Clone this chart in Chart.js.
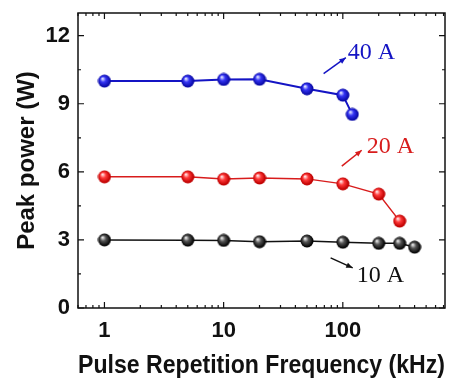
<!DOCTYPE html>
<html>
<head>
<meta charset="utf-8">
<script src="https://cdn.jsdelivr.net/npm/chart.js@4"></script>
<style>
  html, body { margin: 0; padding: 0; background: #fff; }
  #wrap { width: 461px; height: 378px; }
</style>
</head>
<body>
<div id="wrap"><canvas id="chart1" width="461" height="378"></canvas></div>
<script>
// data
var freq40 = [1, 5, 10, 20, 50, 100, 120];
var power40 = [10.0, 10.0, 10.07, 10.08, 9.66, 9.38, 8.53];
var freq20 = [1, 5, 10, 20, 50, 100, 200, 300];
var power20 = [5.78, 5.78, 5.68, 5.73, 5.69, 5.47, 5.02, 3.83];
var freq10 = [1, 5, 10, 20, 50, 100, 200, 300, 400];
var power10 = [3.0, 2.99, 2.98, 2.92, 2.95, 2.90, 2.85, 2.85, 2.68];
var xTicks = [1, 10, 100];
var yTicks = [0, 3, 6, 9, 12];

// label, colour, text anchor, arrow start, arrow end (in data units)
var notes = [
    { text: '40 A', color: '#1414c4', at: [110, 11.25], from: [69, 10.33], to: [106, 11.03] },
    { text: '20 A', color: '#d81c1c', at: [159, 7.12], from: [98, 6.25], to: [144, 6.95] },
    { text: '10 A', color: '#111111', at: [131, 1.42], from: [79, 2.21], to: [121, 1.77] }
];

function toPoints(xs, ys) {
    return xs.map(function (x, i) { return { x: x, y: ys[i] }; });
}

// shaded ball used as the marker
function ball(light, mid, dark) {
    var c = document.createElement('canvas');
    c.width = 14; c.height = 14;
    var g = c.getContext('2d');
    var grad = g.createRadialGradient(5, 4.5, 0.5, 7, 7, 7);
    grad.addColorStop(0, light);
    grad.addColorStop(0.35, mid);
    grad.addColorStop(0.85, dark);
    grad.addColorStop(1, dark);
    g.fillStyle = grad;
    g.beginPath();
    g.arc(7, 7, 6.5, 0, Math.PI * 2);
    g.fill();
    return c;
}

var blueBall = ball('#dfe3ff', '#3535f5', '#0a0aa8');
var redBall = ball('#ffe0e0', '#ff3a3a', '#c00000');
var blackBall = ball('#e6e6e6', '#555555', '#050505');

// box with inward ticks on all four sides
var framePlugin = {
    id: 'frame',
    afterDraw: function (chart) {
        var ctx = chart.ctx, a = chart.chartArea;
        var xs = chart.scales.x, ys = chart.scales.y;
        ctx.save();
        ctx.strokeStyle = '#111';
        ctx.lineWidth = 1.5;
        ctx.strokeRect(a.left, a.top, a.right - a.left, a.bottom - a.top);
        ctx.lineWidth = 1.2;
        ctx.beginPath();
        // y ticks
        for (var v = 0; v <= 13; v += 1.5) {
            var py = ys.getPixelForValue(v);
            var len = (v % 3 === 0) ? 6 : 3;
            ctx.moveTo(a.left, py); ctx.lineTo(a.left + len, py);
            ctx.moveTo(a.right, py); ctx.lineTo(a.right - len, py);
        }
        // x log ticks
        [0.1, 1, 10, 100].forEach(function (dec) {
            for (var m = 1; m <= 9; m++) {
                var val = dec * m;
                if (val < xs.min || val > xs.max) continue;
                var px = xs.getPixelForValue(val);
                var len = (m === 1) ? 6 : 3;
                ctx.moveTo(px, a.bottom); ctx.lineTo(px, a.bottom - len);
                ctx.moveTo(px, a.top); ctx.lineTo(px, a.top + len);
            }
        });
        ctx.stroke();

        // annotations
        notes.forEach(function (n) {
            var x1 = xs.getPixelForValue(n.from[0]), y1 = ys.getPixelForValue(n.from[1]);
            var x2 = xs.getPixelForValue(n.to[0]), y2 = ys.getPixelForValue(n.to[1]);
            ctx.strokeStyle = n.color;
            ctx.fillStyle = n.color;
            ctx.lineWidth = 1.5;
            ctx.beginPath();
            ctx.moveTo(x1, y1); ctx.lineTo(x2, y2);
            ctx.stroke();
            var ang = Math.atan2(y2 - y1, x2 - x1);
            ctx.beginPath();
            ctx.moveTo(x2, y2);
            ctx.lineTo(x2 - 7 * Math.cos(ang - 0.4), y2 - 7 * Math.sin(ang - 0.4));
            ctx.lineTo(x2 - 7 * Math.cos(ang + 0.4), y2 - 7 * Math.sin(ang + 0.4));
            ctx.closePath();
            ctx.fill();
            ctx.font = '24px "Liberation Serif", "Times New Roman", serif';
            ctx.textAlign = 'left';
            ctx.textBaseline = 'middle';
            ctx.fillText(n.text, xs.getPixelForValue(n.at[0]), ys.getPixelForValue(n.at[1]));
        });
        ctx.restore();
    }
};

document.addEventListener('DOMContentLoaded', function () {
    var ctx1 = document.getElementById('chart1').getContext('2d');
    var tickFont = { family: '"Liberation Sans", Arial, sans-serif', size: 22, weight: 'bold' };
    var titleFont = { family: '"Liberation Sans", Arial, sans-serif', size: 24, weight: 'bold' };

    var chart1 = new Chart(ctx1, {
        type: 'line',
        data: {
            datasets: [{
                label: '40 A',
                data: toPoints(freq40, power40),
                borderColor: '#1414c4',
                borderWidth: 2,
                pointStyle: blueBall,
                pointRadius: 7
            }, {
                label: '20 A',
                data: toPoints(freq20, power20),
                borderColor: '#d81c1c',
                borderWidth: 1.5,
                pointStyle: redBall,
                pointRadius: 7
            }, {
                label: '10 A',
                data: toPoints(freq10, power10),
                borderColor: '#111111',
                borderWidth: 1.5,
                pointStyle: blackBall,
                pointRadius: 7
            }]
        },
        options: {
            responsive: false,
            animation: false,
            layout: { padding: { top: 13, right: 16, left: 0, bottom: 0 } },
            plugins: {
                legend: { display: false },
                tooltip: { enabled: false }
            },
            scales: {
                x: {
                    type: 'logarithmic',
                    min: 0.6,
                    max: 720,
                    afterBuildTicks: function (scale) {
                        scale.ticks = xTicks.map(function (v) { return { value: v }; });
                    },
                    afterFit: function (scale) {
                        scale.height = 70;
                        scale.paddingLeft = 0;
                        scale.paddingRight = 0;
                    },
                    grid: { display: false, drawTicks: false },
                    border: { display: false },
                    ticks: {
                        color: '#111',
                        font: tickFont,
                        padding: 10,
                        maxRotation: 0,
                        callback: function (v) { return String(v); }
                    },
                    title: {
                        display: true,
                        text: 'Pulse Repetition Frequency (kHz)',
                        color: '#111',
                        font: { family: '"Liberation Sans", Arial, sans-serif', size: 25.5, weight: 'bold' },
                        padding: { top: 0, bottom: -3 }
                    }
                },
                y: {
                    min: 0,
                    max: 13,
                    afterBuildTicks: function (scale) {
                        scale.ticks = yTicks.map(function (v) { return { value: v }; });
                    },
                    afterFit: function (scale) {
                        scale.width = 78;
                        scale.paddingTop = 0;
                        scale.paddingBottom = 0;
                    },
                    grid: { display: false, drawTicks: false },
                    border: { display: false },
                    ticks: {
                        color: '#111',
                        font: tickFont,
                        padding: 8
                    },
                    title: {
                        display: true,
                        text: 'Peak power (W)',
                        color: '#111',
                        font: titleFont,
                        padding: { top: 13, bottom: 0 }
                    }
                }
            }
        },
        plugins: [framePlugin]
    });
});
</script>
</body>
</html>
